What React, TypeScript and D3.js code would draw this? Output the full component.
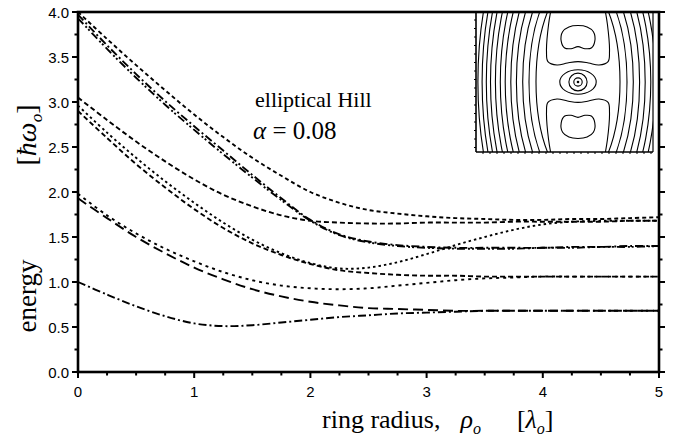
import React from "react";
import * as d3 from "d3";

// ring radius grid (in units of lambda_o)
const radius = [0, 0.25, 0.5, 0.75, 1, 1.25, 1.5, 1.75, 2, 2.25, 2.5, 2.75, 3, 3.25, 3.5, 3.75, 4, 4.25, 4.5, 4.75, 5];

// energy levels (in units of hbar*omega_o)
const level4a = [4.0, 3.7, 3.41, 3.13, 2.86, 2.61, 2.38, 2.18, 2.0, 1.88, 1.8, 1.76, 1.73, 1.71, 1.7, 1.69, 1.69, 1.7, 1.7, 1.71, 1.72];
const level4b = [3.97, 3.63, 3.31, 3.01, 2.73, 2.46, 2.19, 1.93, 1.69, 1.53, 1.45, 1.41, 1.39, 1.38, 1.38, 1.38, 1.38, 1.39, 1.39, 1.4, 1.4];
const level4c = [3.93, 3.59, 3.27, 2.97, 2.69, 2.42, 2.16, 1.91, 1.68, 1.52, 1.44, 1.4, 1.38, 1.37, 1.37, 1.37, 1.38, 1.38, 1.39, 1.39, 1.4];
const level3a = [3.05, 2.8, 2.56, 2.34, 2.14, 1.97, 1.84, 1.74, 1.68, 1.66, 1.65, 1.65, 1.66, 1.66, 1.66, 1.67, 1.67, 1.67, 1.67, 1.68, 1.68];
const level3b = [2.96, 2.66, 2.38, 2.12, 1.88, 1.66, 1.47, 1.32, 1.21, 1.15, 1.16, 1.22, 1.31, 1.41, 1.5, 1.58, 1.64, 1.67, 1.68, 1.68, 1.68];
const level3c = [2.9, 2.6, 2.31, 2.05, 1.81, 1.6, 1.43, 1.3, 1.2, 1.13, 1.1, 1.08, 1.07, 1.07, 1.06, 1.06, 1.06, 1.06, 1.06, 1.06, 1.06];
const level2a = [1.98, 1.74, 1.54, 1.37, 1.23, 1.11, 1.02, 0.96, 0.93, 0.92, 0.93, 0.96, 0.99, 1.02, 1.04, 1.05, 1.06, 1.06, 1.06, 1.06, 1.06];
const level2b = [1.93, 1.71, 1.5, 1.32, 1.16, 1.03, 0.92, 0.84, 0.78, 0.74, 0.71, 0.7, 0.69, 0.68, 0.68, 0.68, 0.68, 0.68, 0.68, 0.68, 0.68];
const level1 = [1.0, 0.86, 0.73, 0.62, 0.54, 0.51, 0.52, 0.55, 0.58, 0.61, 0.63, 0.65, 0.66, 0.67, 0.68, 0.68, 0.68, 0.68, 0.68, 0.68, 0.68];

const levels = [level4a, level4b, level4c, level3a, level3b, level3c, level2a, level2b, level1];
const dashes = ["4,3", "8,3,2,3", "8,3,2,2,2,3", "5,3", "2.5,3", "5,3", "3,4", "10,5", "8,3,2,3"];

const yTicks = [0, 0.5, 1, 1.5, 2, 2.5, 3, 3.5, 4];
const yTickLabels = ["0.0", "0.5", "1.0", "1.5", "2.0", "2.5", "3.0", "3.5", "4.0"];
const xTicks = [0, 1, 2, 3, 4, 5];
const xTickLabels = ["0", "1", "2", "3", "4", "5"];

// inset: potential contours in normalised coordinates (u, v) about the map centre
const outerA = [0.6, 0.7, 0.79, 0.88, 0.96, 1.04, 1.11, 1.18, 1.25, 1.31, 1.37, 1.43];
const outerB = [1.5, 1.65, 1.8, 1.95, 2.1, 2.25, 2.4, 2.55, 2.7, 2.85, 3.0, 3.15];
const coreRx = [0.06, 0.13, 0.26];
const coreRy = [0.06, 0.13, 0.18];
const lobeU = [-0.36, -0.42, -0.45, -0.43, -0.3, -0.15, 0, 0.15, 0.3, 0.43, 0.45, 0.42, 0.36];
const lobeV = [1.2, 0.85, 0.45, 0.3, 0.25, 0.28, 0.3, 0.28, 0.25, 0.3, 0.45, 0.85, 1.2];
const kidneyU = [-0.24, -0.22, -0.13, 0, 0.13, 0.22, 0.24, 0.19, 0.1, 0, -0.1, -0.19];
const kidneyV = [0.6, 0.74, 0.81, 0.83, 0.81, 0.74, 0.6, 0.5, 0.49, 0.52, 0.49, 0.5];

const serif = "'Liberation Serif', 'Times New Roman', serif";
const sans = "'Liberation Sans', Arial, sans-serif";

export default function App() {
  const x = d3.scaleLinear().domain([0, 5]).range([78, 659]);
  const y = d3.scaleLinear().domain([0, 4]).range([372, 12]);

  const line = d3
    .line<number>()
    .x((_, i) => x(radius[i]))
    .y((d) => y(d))
    .curve(d3.curveCatmullRom);

  const yMinor = d3.range(0, 4.001, 0.25);
  const xMinor = d3.range(0, 5.001, 0.25);

  // inset box and map scales
  const box = { x0: 476, x1: 653, y0: 12, y1: 152 };
  const iu = d3.scaleLinear().domain([-1, 1]).range([508, 648]);
  const iv = d3.scaleLinear().domain([-1, 1]).range([150, 14]);
  const cx = iu(0);
  const cy = iv(0);
  const sx = (a: number) => iu(a) - iu(0);
  const sy = (b: number) => iv(0) - iv(b);

  const upperLobe = d3
    .line<number>()
    .x((_, i) => iu(lobeU[i]))
    .y((d) => iv(d))
    .curve(d3.curveCatmullRom);
  const lowerLobe = d3
    .line<number>()
    .x((_, i) => iu(lobeU[i]))
    .y((d) => iv(-d))
    .curve(d3.curveCatmullRom);
  const kidneyTop = d3
    .line<number>()
    .x((_, i) => iu(kidneyU[i]))
    .y((d) => iv(d))
    .curve(d3.curveCatmullRomClosed);
  const kidneyBottom = d3
    .line<number>()
    .x((_, i) => iu(kidneyU[i]))
    .y((d) => iv(-d))
    .curve(d3.curveCatmullRomClosed);

  const insetTicksY = d3.range(box.y0 + 8, box.y1, 8.5);
  const insetTicksX = d3.range(box.x0 + 7, box.x1, 7);

  return (
    <svg
      width={673}
      height={443}
      style={{ position: "absolute", left: 0, top: 0, background: "#fff" }}
    >
      <rect x={0} y={0} width={673} height={443} fill="#fff" />

      {/* energy level curves */}
      <g fill="none" stroke="#000" strokeWidth={1.9}>
        {levels.map((lv, k) => (
          <path key={k} d={line(lv) || ""} strokeDasharray={dashes[k]} />
        ))}
      </g>

      {/* inset contour map */}
      <defs>
        <clipPath id="insetClip">
          <rect x={box.x0} y={box.y0} width={box.x1 - box.x0} height={box.y1 - box.y0} />
        </clipPath>
      </defs>
      <rect x={box.x0} y={box.y0} width={box.x1 - box.x0} height={box.y1 - box.y0} fill="#fff" />
      <g clipPath="url(#insetClip)" fill="none" stroke="#000" strokeWidth={1.1}>
        {outerA.map((a, k) => (
          <ellipse key={k} cx={cx} cy={cy} rx={sx(a)} ry={sy(outerB[k])} />
        ))}
        {coreRx.map((r, k) => (
          <ellipse key={"c" + k} cx={cx} cy={cy} rx={sx(r)} ry={sy(coreRy[k])} />
        ))}
        <circle cx={cx} cy={cy} r={1.3} fill="#000" stroke="none" />
        <path d={upperLobe(lobeV) || ""} />
        <path d={lowerLobe(lobeV) || ""} />
        <path d={kidneyTop(kidneyV) || ""} />
        <path d={kidneyBottom(kidneyV) || ""} />
      </g>
      <g stroke="#000" fill="none">
        <line x1={box.x0} x2={box.x0} y1={box.y0} y2={box.y1} strokeWidth={1.6} />
        <line x1={box.x0} x2={box.x1} y1={box.y1} y2={box.y1} strokeWidth={1.6} />
        <line x1={box.x1} x2={box.x1} y1={box.y0} y2={box.y1} strokeWidth={1.2} />
        {insetTicksY.map((v, k) => (
          <line key={"iy" + k} x1={box.x0} x2={box.x0 - 2} y1={v} y2={v} strokeWidth={1} />
        ))}
        {insetTicksX.map((u, k) => (
          <line key={"ix" + k} x1={u} x2={u} y1={box.y1} y2={box.y1 + 2} strokeWidth={1} />
        ))}
      </g>

      {/* axes frame */}
      <g stroke="#000" fill="none">
        <rect x={x(0)} y={y(4)} width={x(5) - x(0)} height={y(0) - y(4)} strokeWidth={2.6} />
        {yMinor.map((v, k) => {
          const major = Math.abs(v * 2 - Math.round(v * 2)) < 1e-6;
          const len = major ? 6 : 3.5;
          return (
            <g key={"yt" + k}>
              <line x1={x(0)} x2={x(0) - len} y1={y(v)} y2={y(v)} strokeWidth={2} />
              <line x1={x(5)} x2={x(5) + len} y1={y(v)} y2={y(v)} strokeWidth={2} />
            </g>
          );
        })}
        {xMinor.map((v, k) => {
          const major = Math.abs(v - Math.round(v)) < 1e-6;
          const len = major ? 6 : 3.5;
          return <line key={"xt" + k} x1={x(v)} x2={x(v)} y1={y(0)} y2={y(0) + len} strokeWidth={2} />;
        })}
      </g>

      {/* tick labels */}
      <g fontFamily={sans} fontSize={15} fill="#000">
        {yTicks.map((v, k) => (
          <text key={"yl" + k} x={69} y={y(v) + 5.5} textAnchor="end">
            {yTickLabels[k]}
          </text>
        ))}
        {xTicks.map((v, k) => (
          <text key={"xl" + k} x={x(v)} y={397} textAnchor="middle">
            {xTickLabels[k]}
          </text>
        ))}
      </g>

      {/* axis titles */}
      <g fontFamily={serif} fontSize={27} fill="#000">
        <text transform="translate(36,296) rotate(-90)" textAnchor="middle">
          energy
        </text>
        <text transform="translate(36,135) rotate(-90)" textAnchor="middle" fontSize={28}>
          <tspan>[</tspan>
          <tspan fontStyle="italic">ħω</tspan>
          <tspan fontStyle="italic" fontSize={17} dy={6}>o</tspan>
          <tspan dy={-6}>]</tspan>
        </text>
        <text x={322} y={428} fontSize={26}>
          <tspan>ring radius,</tspan>
          <tspan dx={20} fontStyle="italic">ρ</tspan>
          <tspan fontStyle="italic" fontSize={16} dy={6}>o</tspan>
          <tspan dx={36} dy={-6}>[</tspan>
          <tspan fontStyle="italic">λ</tspan>
          <tspan fontStyle="italic" fontSize={16} dy={6}>o</tspan>
          <tspan dy={-6}>]</tspan>
        </text>
      </g>

      {/* annotation */}
      <g fontFamily={serif} fill="#000">
        <text x={255} y={107} fontSize={22}>elliptical Hill</text>
        <text x={253} y={139} fontSize={25}>
          <tspan fontStyle="italic">α</tspan>
          <tspan> = 0.08</tspan>
        </text>
      </g>
    </svg>
  );
}
